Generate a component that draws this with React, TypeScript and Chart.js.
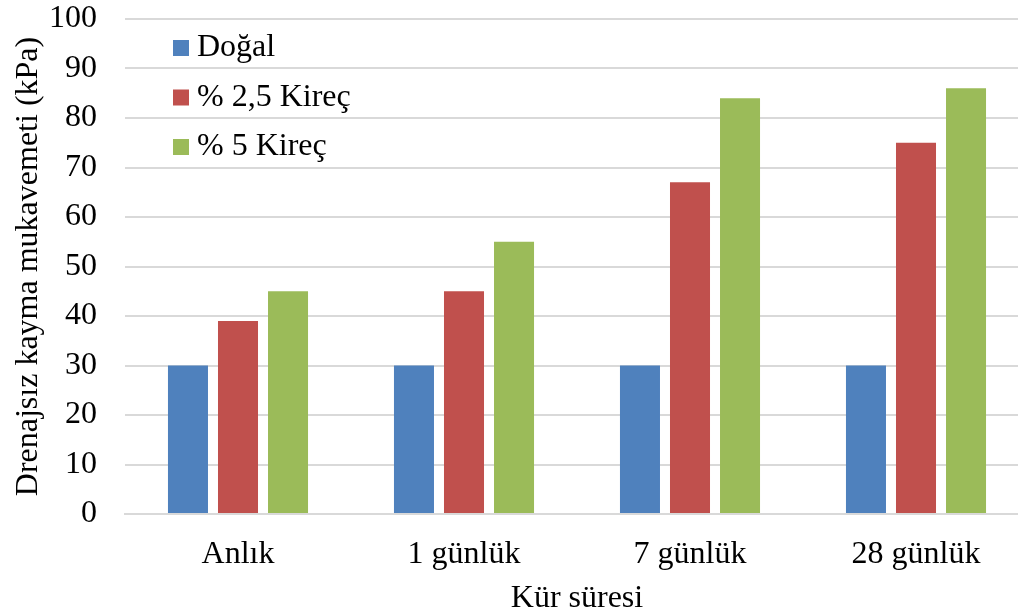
import React, { useEffect, useRef } from "react";
import { Chart, registerables } from "chart.js";

Chart.register(...registerables);

const categories = ["Anlık", "1 günlük", "7 günlük", "28 günlük"];
const seriesNames = ["Doğal", "% 2,5 Kireç", "% 5 Kireç"];
const dogal = [30, 30, 30, 30];
const kirec25 = [39, 45, 67, 75];
const kirec5 = [45, 55, 84, 86];
const colors = ["#4F81BD", "#C0504D", "#9BBB59"];

const FONT = "'Liberation Serif', 'Times New Roman', serif";
const FS = 32;

const insideLegend = {
  id: "insideLegend",
  afterDraw(chart: any) {
    const { ctx, chartArea } = chart;
    ctx.save();
    ctx.font = `${FS}px ${FONT}`;
    ctx.textBaseline = "middle";
    chart.data.datasets.forEach((ds: any, i: number) => {
      const x = chartArea.left + 48;
      const y = chartArea.top + 29 + i * 49.5;
      ctx.fillStyle = ds.backgroundColor;
      ctx.fillRect(x, y - 8, 16, 16);
      ctx.fillStyle = "#000";
      ctx.fillText(ds.label, x + 24, y);
    });
    ctx.restore();
  },
};

export default function App() {
  const ref = useRef<HTMLCanvasElement>(null);
  useEffect(() => {
    if (!ref.current) return;
    const chart = new Chart(ref.current, {
      type: "bar",
      data: {
        labels: categories,
        datasets: [dogal, kirec25, kirec5].map((d, i) => ({
          label: seriesNames[i],
          data: d,
          backgroundColor: colors[i],
          borderWidth: 0,
          categoryPercentage: 0.664,
          barPercentage: 0.8,
        })),
      },
      options: {
        animation: false,
        responsive: false,
        layout: { padding: { top: 19, right: 0, left: 9, bottom: 0 } },
        plugins: { legend: { display: false }, tooltip: { enabled: false } },
        scales: {
          x: {
            grid: { display: false },
            border: { display: true, color: "#d9d9d9", width: 2 },
            ticks: { color: "#000", font: { family: FONT, size: FS }, padding: 13 },
            title: {
              display: true,
              text: "Kür süresi",
              color: "#000",
              font: { family: FONT, size: FS },
              padding: { top: 0, bottom: 0 },
            },
            afterFit(scale: any) {
              scale.height = 104;
              scale.paddingLeft = 0;
              scale.paddingRight = 0;
            },
          },
          y: {
            min: 0,
            max: 100,
            ticks: { stepSize: 10, color: "#000", font: { family: FONT, size: FS }, padding: 28 },
            grid: { color: "#d9d9d9", lineWidth: 2, drawTicks: false },
            border: { display: false },
            title: {
              display: true,
              text: "Drenajsız kayma mukavemeti (kPa)",
              color: "#000",
              font: { family: FONT, size: FS },
              padding: { top: 0, bottom: 4 },
            },
            afterFit(scale: any) {
              scale.width = 116;
              scale.paddingTop = 0;
              scale.paddingBottom = 0;
            },
          },
        },
      },
      plugins: [insideLegend],
    });
    return () => chart.destroy();
  }, []);
  return (
    <div style={{ position: "fixed", left: 0, top: 0, width: 1018, height: 614, background: "#fff", overflow: "hidden" }}>
      <canvas ref={ref} width={1029} height={618} style={{ width: 1029, height: 618, display: "block" }} />
    </div>
  );
}
